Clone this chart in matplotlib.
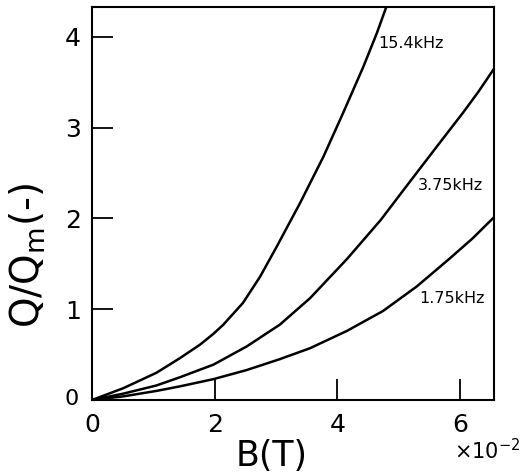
import numpy as np
import matplotlib
matplotlib.use("Agg")
import matplotlib.pyplot as plt

# B in units of 1e-2 T, Q/Qm dimensionless
b_154 = [0, 0.51, 1.05, 1.43, 1.76, 1.98, 2.14, 2.46, 2.74, 3.01, 3.39, 3.77, 4.09, 4.42, 4.64, 4.80]
q_154 = [0, 0.13, 0.30, 0.46, 0.61, 0.73, 0.83, 1.07, 1.36, 1.69, 2.17, 2.68, 3.16, 3.67, 4.04, 4.34]

b_375 = [0, 0.51, 1.05, 1.43, 1.98, 2.52, 3.06, 3.55, 4.15, 4.70, 5.23, 5.65, 6.05, 6.30, 6.56]
q_375 = [0, 0.07, 0.16, 0.25, 0.39, 0.59, 0.83, 1.12, 1.55, 1.98, 2.45, 2.82, 3.17, 3.40, 3.66]

b_175 = [0, 0.51, 1.05, 1.43, 1.98, 2.52, 3.06, 3.55, 4.15, 4.74, 5.29, 5.83, 6.20, 6.56]
q_175 = [0, 0.04, 0.10, 0.15, 0.23, 0.33, 0.45, 0.57, 0.76, 0.98, 1.25, 1.56, 1.78, 2.02]

curve_labels = ["15.4kHz", "3.75kHz", "1.75kHz"]
x_ticks = [0, 2, 4, 6]
y_ticks = [0, 1, 2, 3, 4]

fig = plt.figure(figsize=(5.28, 4.73), dpi=100)
ax = fig.add_axes([92/528, 1-400/473, (494-92)/528, (400-7)/473])

for b, q in [(b_154, q_154), (b_375, q_375), (b_175, q_175)]:
    ax.plot(b, q, color="black", lw=1.8, solid_joinstyle="round")

ax.set_xlim(0, 6.55)
ax.set_ylim(0, 4.33)
ax.set_xticks(x_ticks)
ax.set_yticks(y_ticks)
ax.set_xticklabels([str(t) for t in x_ticks])
ax.set_yticklabels([""] + [str(t) for t in y_ticks[1:]])
ax.tick_params(direction="in", length=15, width=1.3, labelsize=18)
ax.tick_params(axis="x", pad=9)
ax.tick_params(axis="y", pad=8)
for s in ax.spines.values():
    s.set_linewidth(1.5)

# the y "0" sits lower-left of the corner
fig.text(72/528, 1-399/473, "0", fontsize=16, ha="center", va="center")

ax.text(4.66, 3.93, curve_labels[0], fontsize=11.5, ha="left", va="center")
ax.text(5.31, 2.36, curve_labels[1], fontsize=11.5, ha="left", va="center")
ax.text(5.34, 1.12, curve_labels[2], fontsize=11.5, ha="left", va="center")

ax.set_xlabel("B(T)", fontsize=25, va="center")
ax.xaxis.set_label_coords(0.448, -0.142)
ax.set_ylabel("Q/Q$_\\mathregular{m}$(-)", fontsize=28, va="center")
ax.yaxis.set_label_coords(-0.159, 0.369)
fig.text(487/528, 1-451/473, "×10$^{-2}$", fontsize=15, ha="center", va="center")

fig.savefig("out.png", dpi=100)
